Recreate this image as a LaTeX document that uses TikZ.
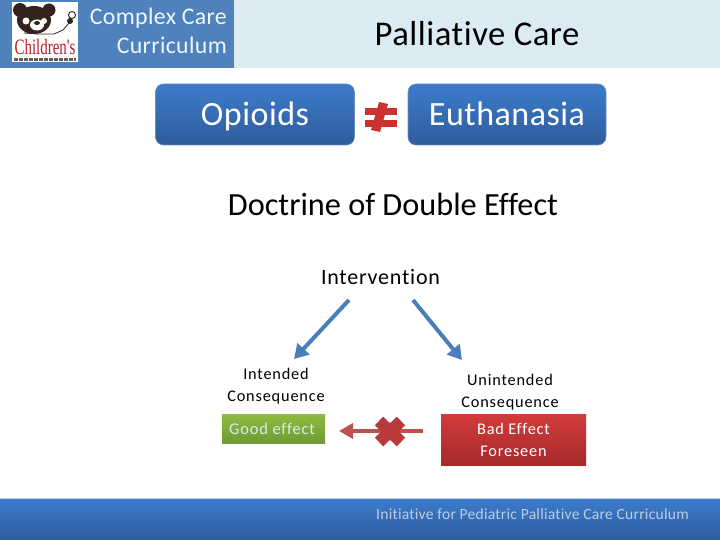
\documentclass[tikz,border=0pt]{standalone}
\usepackage{fontspec}
\setmainfont{Carlito}[Ligatures=CommonOff]
\newfontfamily\lsfont[LetterSpace=1.5,Ligatures=CommonOff]{Carlito}
\newfontfamily\lsmfont[LetterSpace=3.5,Ligatures=CommonOff]{Carlito}
\newfontfamily\lswfont[LetterSpace=5,Ligatures=CommonOff]{Carlito}
\newfontfamily\logofont{Liberation Serif}
\usetikzlibrary{arrows.meta}
\definecolor{hdrlight}{HTML}{DAEBF3}
\definecolor{hdrblue}{HTML}{4F81BD}
\definecolor{btop}{HTML}{3C7CCB}
\definecolor{bbot}{HTML}{2F5C9C}
\definecolor{arrowblue}{HTML}{4A7EBB}
\definecolor{redtop}{HTML}{D23B3B}
\definecolor{redbot}{HTML}{A52A2A}
\definecolor{crossred}{HTML}{C0504D}
\definecolor{neqred}{HTML}{C8322F}
\definecolor{xred}{HTML}{B83A3A}
\definecolor{greentop}{HTML}{8FBC3F}
\definecolor{greenbot}{HTML}{6F9A35}
\definecolor{bear}{HTML}{33231C}
\definecolor{logored}{HTML}{B3202C}
\definecolor{foot}{HTML}{B9CDE5}
\tikzset{
  x=1pt,y=-1pt,
  txt/.style={inner sep=0pt,align=center,text=black},
  bluebtn/.style={rounded corners=8pt,top color=btop,bottom color=bbot,draw=bbot!70!white,line width=0.6pt,minimum height=61pt,text=white,inner sep=0pt,text height=26.5pt,text depth=3.5pt,font=\lsfont\fontsize{34}{36}\selectfont},
  blarrow/.style={draw=arrowblue,line width=4pt,-{Triangle[length=14pt,width=16pt]}},
  small/.style={txt,font=\lswfont\fontsize{16.3}{22}\selectfont},
}
\begin{document}
\begin{tikzpicture}
\useasboundingbox (0,0) rectangle (720,540);
\fill[white] (0,0) rectangle (720,540);
% header
\fill[hdrlight] (0,0) rectangle (720,68);
\fill[hdrblue] (0,0) rectangle (234,68);
% logo
\fill[white] (12,2) rectangle (78,62);
\fill[bear] (20,10) circle (7);
\fill[bear] (49,10) circle (6.5);
\fill[bear] (34,20) ellipse (17 and 14);
\fill[white] (26,21) circle (3.5);
\fill[white] (44,21) circle (3);
\fill[white] (37,25) ellipse (7 and 5.5);
\fill[bear] (37,23) ellipse (3 and 2);
\draw[bear,line width=0.9pt] (72,15) circle (3.5);
\fill[bear] (70,21) circle (3);
\draw[bear,line width=0.8pt] (69,23) -- (63,30) -- (54,34) -- (38,34) -- (24,33);
\node[inner sep=0pt,text=logored,font=\logofont\fontsize{22}{22}\selectfont,xscale=0.68] (logotext) at (45,47) {Children's};
\draw[bear!75!white,line width=2.5pt,dash pattern=on 4pt off 1pt] (14,59.5) -- (76,59.5);
% header texts
\node[txt,text=hdrlight!40!white,font=\lsfont\fontsize{23.8}{29}\selectfont,anchor=east,align=right] (cc) at (227,31) {Complex Care\\Curriculum};
\node[txt,font=\lsfont\fontsize{34.7}{36}\selectfont] (title) at (477,34) {Palliative Care};
% top buttons
\node[bluebtn,minimum width=199pt] (op) at (255,114.5) {Opioids};
\node[bluebtn,minimum width=198pt] (eu) at (507,114.5) {Euthanasia};
\fill[neqred] (379,102) -- (388,104) -- (380,132) -- (371,130) -- cycle;
\fill[neqred] (365,108) rectangle (397,115.5);
\fill[neqred] (365,120) rectangle (397,127);
% mid texts
\node[txt,font=\fontsize{32.3}{36}\selectfont] (dde) at (393,204.5) {Doctrine of Double Effect};
\node[txt,font=\lsmfont\fontsize{22}{26}\selectfont] (iv) at (380.5,277) {Intervention};
\coordinate (a1) at (349,300);
\coordinate (a2) at (294,359);
\coordinate (b1) at (413,300);
\coordinate (b2) at (462,360);
\draw[blarrow] (a1) -- (a2);
\draw[blarrow] (b1) -- (b2);
\node[small] (ic) at (276,386) {Intended\\Consequence};
\node[small] (uc) at (510,392) {Unintended\\Consequence};
\node[minimum width=103pt,minimum height=29pt,inner sep=0pt,top color=greentop,bottom color=greenbot,inner xsep=0pt,text=hdrlight,font=\lswfont\fontsize{16.5}{20}\selectfont] (good) at (273.5,428.5) {\hspace{-3pt}Good effect};
\node[minimum width=145pt,minimum height=51pt,inner sep=0pt,align=center,top color=redtop,bottom color=redbot,text=white,font=\lswfont\fontsize{16.3}{22}\selectfont] (bad) at (513.5,439.5) {Bad Effect\\Foreseen};
\coordinate (r1) at (423,431);
\coordinate (r2) at (339,431);
\draw[crossred,line width=3.5pt,-{Triangle[length=14pt,width=15pt]}] (r1) -- (r2);
\draw[xred,line width=12pt] (379,421) -- (401,442) (401,421) -- (379,442);
% footer
\shade[top color=btop,bottom color=bbot] (0,499) rectangle (720,540);
\fill[foot] (0,498) rectangle (720,499);
\node[txt,text=foot,font=\lsfont\fontsize{15.6}{20}\selectfont] (ft) at (532.5,514) {Initiative for Pediatric Palliative Care Curriculum};
\end{tikzpicture}
\end{document}
